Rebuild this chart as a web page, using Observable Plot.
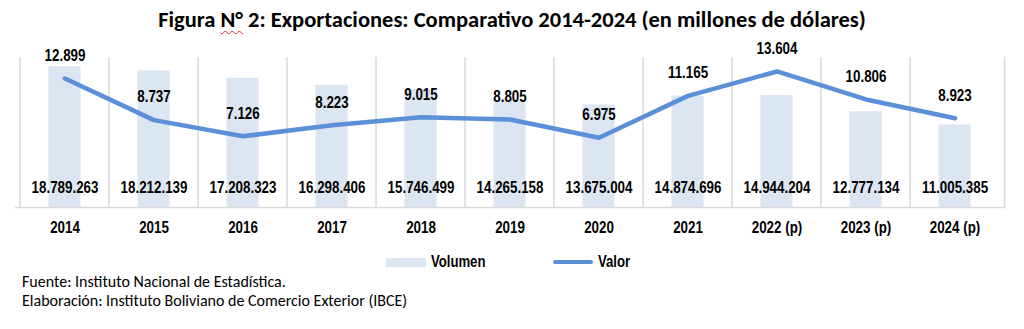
<!DOCTYPE html>
<html>
<head>
<meta charset="utf-8">
<script src="https://cdn.jsdelivr.net/npm/d3@7"></script>
<script src="https://cdn.jsdelivr.net/npm/@observablehq/plot@0.6"></script>
<style>
  html, body { margin: 0; padding: 0; background: #fff; }
  body { width: 1024px; height: 329px; overflow: hidden; position: relative; }
  #title { position: absolute; left: 0; top: 6px; width: 1024px; text-align: center;
    font-family: "Carlito", "Calibri", "Lato", sans-serif; font-weight: bold; font-size: 22.5px; color: #000; }
  #title .sp { text-decoration: underline wavy #e03030; text-decoration-thickness: 1px; text-underline-offset: 3px; }
  #chart { position: absolute; left: 0; top: 40px; }
  #legend { position: absolute; top: 253px; left: 0; width: 1024px; height: 18px;
    font-family: "Liberation Sans", Arial, sans-serif; font-weight: bold; font-size: 16px; }
  #legend .item { position: absolute; top: 0; display: flex; align-items: center; height: 18px; }
  #legend .sw { display: inline-block; width: 40px; margin-right: 5px; }
  #legend .lab { display: inline-block; transform: scaleX(0.82); transform-origin: left center; }
  #caption { position: absolute; left: 22px; top: 272px; font-family: "Carlito", "Calibri", "Lato", sans-serif;
    font-size: 16px; line-height: 19px; color: #000; }
</style>
</head>
<body>
<div id="title">Figura <span class="sp">N°</span> 2: Exportaciones: Comparativo 2014-2024 (en millones de dólares)</div>
<div id="chart"></div>
<div id="legend"></div>
<div id="caption">Fuente: Instituto Nacional de Estadística.<br>Elaboración: Instituto Boliviano de Comercio Exterior (IBCE)</div>
<script>
const years = ["2014", "2015", "2016", "2017", "2018", "2019", "2020", "2021", "2022 (p)", "2023 (p)", "2024 (p)"];
const volumen = [18789263, 18212139, 17208323, 16298406, 15746499, 14265158, 13675004, 14874696, 14944204, 12777134, 11005385];
const valor = [12899, 8737, 7126, 8223, 9015, 8805, 6975, 11165, 13604, 10806, 8923];
const seriesNames = ["Volumen", "Valor"];

const barColor = "#dce6f2";
const lineColor = "#5b8fd8";
const gridColor = "#d9d9d9";

const locale = d3.formatLocale({decimal: ",", thousands: ".", grouping: [3], currency: ["", ""]});
const fmt = locale.format(",d");

const data = years.map((y, i) => ({year: y, volumen: volumen[i], valor: valor[i]}));

// Volumen axis max 20.000.000 and Valor axis max 15.000 share the same pixel range
const volMax = 20000000, valMax = 15000;
const k = valMax / volMax;

const W = 1024, H = 205, mL = 15, mR = 20, mT = 17, mB = 38;
const bw = (W - mL - mR) / years.length;

const chart = Plot.plot({
  width: W, height: H,
  marginLeft: mL, marginRight: mR, marginTop: mT, marginBottom: mB,
  style: {fontFamily: "'Liberation Sans', Arial, sans-serif", fontWeight: "bold", color: "#000", background: "#fff"},
  x: {type: "band", domain: years, padding: 0, label: null},
  y: {domain: [0, valMax], axis: null},
  marks: [
    Plot.ruleX(years, {x: d => d, dx: -bw / 2, stroke: gridColor, strokeWidth: 1.5}),
    Plot.frame({anchor: "right", stroke: gridColor, strokeWidth: 1.5}),
    Plot.barY(data, {x: "year", y: d => d.volumen * k, fill: barColor, insetLeft: (bw - 33) / 2, insetRight: (bw - 33) / 2}),
    Plot.ruleY([0], {stroke: gridColor, strokeWidth: 1.5}),
    Plot.line(data, {x: "year", y: "valor", stroke: lineColor, strokeWidth: 4.5, strokeLinecap: "round", strokeLinejoin: "round"}),
    Plot.text(data, {x: "year", y: "valor", text: d => fmt(d.valor), dy: -23, fontSize: 16.5, fill: "#000"}),
    Plot.text(data, {x: "year", frameAnchor: "bottom", text: d => fmt(d.volumen), dy: -15, fontSize: 16.5, fill: "#000"}),
    Plot.axisX({tickSize: 0, tickPadding: 14, fontSize: 16.5, fill: "#000", label: null})
  ]
});
document.getElementById("chart").appendChild(chart);

// emulate a condensed (Arial Narrow-like) face by compressing glyphs horizontally
chart.querySelectorAll("text").forEach(t => {
  const len = t.getComputedTextLength();
  if (len > 0) {
    t.setAttribute("textLength", (len * 0.81).toFixed(2));
    t.setAttribute("lengthAdjust", "spacingAndGlyphs");
  }
});

const legend = document.getElementById("legend");
const items = [
  {name: seriesNames[0], left: 386, swatch: `<span class="sw" style="height:9px;background:${barColor}"></span>`},
  {name: seriesNames[1], left: 553, swatch: `<span class="sw" style="height:4px;border-radius:2px;background:${lineColor}"></span>`}
];
for (const it of items) {
  const div = document.createElement("div");
  div.className = "item";
  div.style.left = it.left + "px";
  div.innerHTML = it.swatch + `<span class="lab">${it.name}</span>`;
  legend.appendChild(div);
}
</script>
</body>
</html>
